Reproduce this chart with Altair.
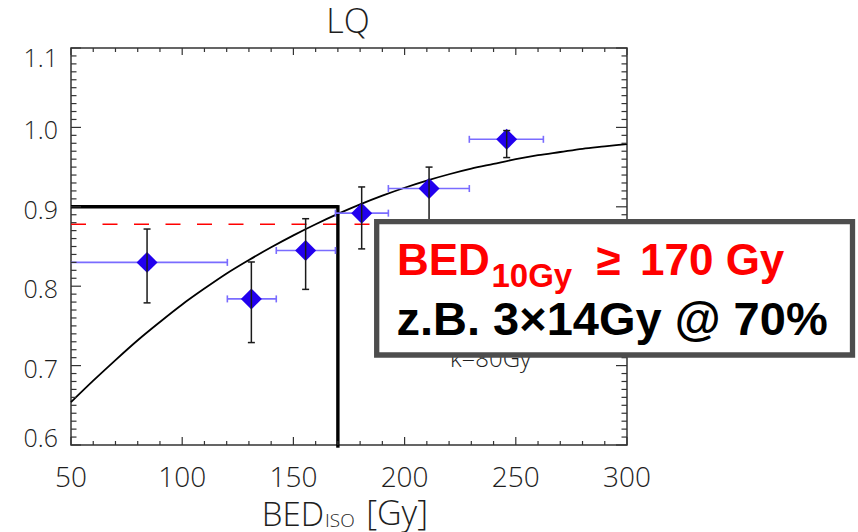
import altair as alt
import pandas as pd

# ---------------- data ----------------
curve_bed = [50, 60, 70, 80, 90, 100, 110, 120, 130, 140, 150, 160, 170,
             180, 190, 200, 210, 220, 230, 240, 250, 260, 270, 280, 290, 300]
curve_tcp = [0.654, 0.681, 0.707, 0.732, 0.755, 0.777, 0.797, 0.816, 0.833,
             0.849, 0.864, 0.878, 0.891, 0.903, 0.914, 0.924, 0.933, 0.941,
             0.948, 0.954, 0.960, 0.965, 0.969, 0.973, 0.976, 0.979]

pt_bed = [84.2, 131.1, 155.5, 180.7, 211.0, 245.9]
pt_tcp = [0.830, 0.784, 0.845, 0.892, 0.923, 0.985]
pt_bed_lo = [48.0, 120.3, 142.3, 168.9, 192.7, 229.1]
pt_bed_hi = [120.3, 142.3, 168.9, 192.7, 229.1, 262.4]
pt_tcp_lo = [0.779, 0.729, 0.796, 0.847, 0.875, 0.962]
pt_tcp_hi = [0.872, 0.8305, 0.885, 0.925, 0.950, 0.996]

bed_threshold = [170]
tcp_target = [0.90]
tcp_dashed = [0.878]

x_major = [50, 100, 150, 200, 250, 300]
x_minor = [v for v in range(50, 301, 10) if v % 50]
y_major = [0.6, 0.7, 0.8, 0.9, 1.0, 1.1]
y_minor = [round(0.6 + 0.01 * i, 2) for i in range(51) if i % 10]

title_text = ["LQ"]
xtitle_main = ["BED"]
xtitle_sub = ["ISO"]
xtitle_unit = ["[Gy]"]
k_text = ["k=80Gy"]
box_line1_a = ["BED"]
box_line1_sub = ["10Gy"]
box_line1_ge = ["\u2265"]
box_line1_b = ["170 Gy"]
box_line2 = ["z.B. 3\u00d714Gy @ 70%"]

# ---------------- tables ----------------
curve_df = pd.DataFrame({"bed": curve_bed, "tcp": curve_tcp})
pts_df = pd.DataFrame({"bed": pt_bed, "tcp": pt_tcp, "bed_lo": pt_bed_lo,
                       "bed_hi": pt_bed_hi, "tcp_lo": pt_tcp_lo, "tcp_hi": pt_tcp_hi})
thr_df = pd.DataFrame({"bed": bed_threshold, "tcp": tcp_target, "x0": [x_major[0]]})
dash_df = pd.DataFrame({"tcp": tcp_dashed, "x0": [x_major[0]], "x1": [x_major[-1]]})
xmaj_df = pd.DataFrame({"v": x_major})
xmin_df = pd.DataFrame({"v": x_minor})
ymaj_df = pd.DataFrame({"v": y_major})
ymin_df = pd.DataFrame({"v": y_minor})
ylab_mid_df = pd.DataFrame({"v": y_major[1:-1]})
ylab_top_df = pd.DataFrame({"v": y_major[-1:]})
ylab_bot_df = pd.DataFrame({"v": y_major[:1]})

W, H = 556, 397
LABEL_FONT = "Open Sans"
TXT = "#1e1e1e"

xsc = alt.Scale(domain=[50, 300], nice=False, zero=False)
ysc = alt.Scale(domain=[0.6, 1.1], nice=False, zero=False)

curve = alt.Chart(curve_df).mark_line(color="black", strokeWidth=1.8,
                                      interpolate="monotone").encode(
    x=alt.X("bed:Q", scale=xsc, axis=None),
    y=alt.Y("tcp:Q", scale=ysc, axis=None),
)

dashed = alt.Chart(dash_df).mark_rule(color="#ff0000", strokeWidth=1.6,
                                      strokeDash=[15, 16.5]).encode(
    x=alt.X("x0:Q", scale=xsc, axis=None), x2="x1:Q",
    y=alt.Y("tcp:Q", scale=ysc, axis=None),
)

hline = alt.Chart(thr_df).mark_rule(color="black", strokeWidth=3.4).encode(
    x=alt.X("x0:Q", scale=xsc, axis=None), x2="bed:Q",
    y=alt.Y("tcp:Q", scale=ysc, axis=None),
)
vline = alt.Chart(thr_df).mark_rule(color="black", strokeWidth=3.4,
                                    strokeCap="square").encode(
    x=alt.X("bed:Q", scale=xsc, axis=None),
    y=alt.Y("tcp:Q", scale=ysc, axis=None), y2=alt.value(H + 1),
)

BLUE_BAR = "#7a6cff"
xerr = alt.Chart(pts_df).mark_rule(color=BLUE_BAR, strokeWidth=1.6, clip=True).encode(
    x=alt.X("bed_lo:Q", scale=xsc, axis=None), x2="bed_hi:Q",
    y=alt.Y("tcp:Q", scale=ysc, axis=None),
)
xcaps = alt.Chart(pts_df).transform_fold(["bed_lo", "bed_hi"], as_=["end", "xv"]).mark_tick(
    color=BLUE_BAR, orient="vertical", size=7, thickness=1.6, clip=True, opacity=1).encode(
    x=alt.X("xv:Q", scale=xsc, axis=None),
    y=alt.Y("tcp:Q", scale=ysc, axis=None),
)

diamonds = alt.Chart(pts_df).mark_point(shape="diamond", filled=True, size=440,
                                        color="#2200ee", opacity=1).encode(
    x=alt.X("bed:Q", scale=xsc, axis=None),
    y=alt.Y("tcp:Q", scale=ysc, axis=None),
)

yerr = alt.Chart(pts_df).mark_rule(color="#1a1a1a", strokeWidth=1.5).encode(
    x=alt.X("bed:Q", scale=xsc, axis=None),
    y=alt.Y("tcp_lo:Q", scale=ysc, axis=None), y2="tcp_hi:Q",
)
ycaps = alt.Chart(pts_df).transform_fold(["tcp_lo", "tcp_hi"], as_=["end", "yv"]).mark_tick(
    color="#1a1a1a", orient="horizontal", size=7, thickness=1.5, opacity=1).encode(
    x=alt.X("bed:Q", scale=xsc, axis=None),
    y=alt.Y("yv:Q", scale=ysc, axis=None),
)

TICK_C = "#333333"


def xticks(df, length, top):
    if top:
        yy, yy2 = 0, length
    else:
        yy, yy2 = H, H - length
    return alt.Chart(df).mark_rule(color=TICK_C, strokeWidth=1.2).encode(
        x=alt.X("v:Q", scale=xsc, axis=None), y=alt.value(yy), y2=alt.value(yy2))


def yticks(df, length, right):
    if right:
        xx, xx2 = W, W - length
    else:
        xx, xx2 = 0, length
    return alt.Chart(df).mark_rule(color=TICK_C, strokeWidth=1.2).encode(
        y=alt.Y("v:Q", scale=ysc, axis=None), x=alt.value(xx), x2=alt.value(xx2))


ticks = [
    xticks(xmaj_df, 8, False), xticks(xmin_df, 4, False),
    xticks(xmaj_df, 7, True), xticks(xmin_df, 4, True),
    yticks(ymaj_df, 10, False), yticks(ymin_df, 5.5, False),
    yticks(ymaj_df, 11, True), yticks(ymin_df, 5.5, True),
]

# tick labels (text marks placed through the scales)
xlabels = alt.Chart(xmaj_df).mark_text(
    font=LABEL_FONT, fontSize=28, fontWeight=300, color=TXT,
    align="center", baseline="top").encode(
    x=alt.X("v:Q", scale=xsc, axis=None), y=alt.value(H + 19.5),
    text=alt.Text("v:Q", format="d"))


def ylab(df, dy):
    return alt.Chart(df).mark_text(
        font=LABEL_FONT, fontSize=25, fontWeight=300, color=TXT,
        align="right", baseline="middle", dy=dy).encode(
        y=alt.Y("v:Q", scale=ysc, axis=None), x=alt.value(-13),
        text=alt.Text("v:Q", format=".1f"))


ylabels = [ylab(ylab_mid_df, 4), ylab(ylab_top_df, 11), ylab(ylab_bot_df, -6)]


def label(text_list, x, y, size, color=TXT, font=LABEL_FONT, weight=300,
          align="left", baseline="alphabetic"):
    return alt.Chart(pd.DataFrame({"t": text_list})).mark_text(
        font=font, fontSize=size, fontWeight=weight, color=color,
        align=align, baseline=baseline).encode(
        text="t:N", x=alt.value(x), y=alt.value(y))


title = label(title_text, 277, -15, 34, align="center")
xt_main = label(xtitle_main, 253, 478, 33, align="right")
xt_sub = label(xtitle_sub, 254, 479, 19)
xt_unit = label(xtitle_unit, 357, 477, 34, align="right")

k_label = label(k_text, 379, 318.5, 24)

box = alt.Chart(pd.DataFrame({"b": [1]})).mark_rect(
    fill="white", stroke="#4d4d4d", strokeWidth=5.3).encode(
    x=alt.value(305.7), x2=alt.value(781.5), y=alt.value(173.7), y2=alt.value(307))

RED = "#ff0000"
BF = "Liberation Sans"
b1 = label(box_line1_a, 326, 227, 44, color=RED, font=BF, weight="bold")
b1s = label(box_line1_sub, 420.5, 239, 33, color=RED, font=BF, weight="bold")
b1g = label(box_line1_ge, 525.5, 227, 44, color=RED, font=BF, weight="bold")
b1b = label(box_line1_b, 569, 227, 44, color=RED, font=BF, weight="bold")
b2 = label(box_line2, 325.5, 287, 47, color="black", font=BF, weight="bold")

chart = alt.layer(
    curve, dashed, hline, vline, xerr, xcaps, diamonds, yerr, ycaps,
    *ticks, xlabels, *ylabels, title, xt_main, xt_sub, xt_unit, k_label,
    box, b1, b1s, b1g, b1b, b2,
).properties(
    width=W, height=H,
    background="white",
    autosize=alt.AutoSizeParams(type="none"),
    padding={"left": 71, "top": 48, "right": 231, "bottom": 87},
).configure_view(stroke="#333333", strokeWidth=1.5)

chart.save("out.html", embed_options={"renderer": "svg", "actions": False})
